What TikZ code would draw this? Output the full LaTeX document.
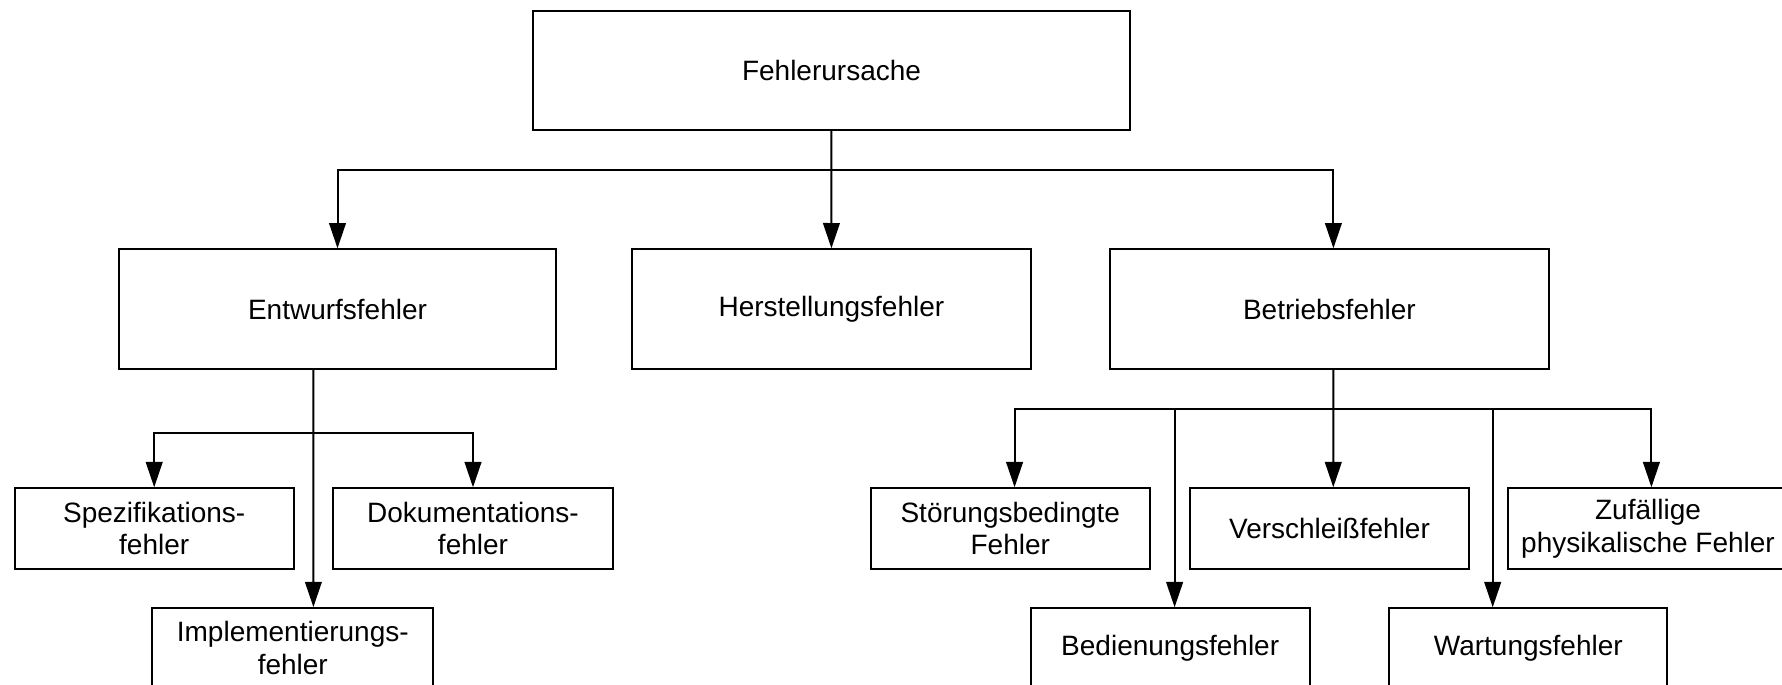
\documentclass[tikz,border=0pt]{standalone}
\usepackage{fontspec}
\setmainfont{Liberation Sans}
\usetikzlibrary{arrows.meta}
\begin{document}
\begin{tikzpicture}[x=0.75pt,y=-0.75pt,
  box/.style={draw, line width=1.5pt, inner sep=0pt, align=center,
    font=\fontsize{21}{24.5}\selectfont},
  big/.style={box, minimum height=89.8pt},
  small/.style={box, minimum height=60.3pt, minimum width=209.3pt},
  ln/.style={line width=1.5pt},
  arr/.style={line width=1.5pt, -{Triangle[length=19pt,width=12.5pt]}}]
\useasboundingbox (0,0) rectangle (1782,685);
\clip (0,0) rectangle (1782,685);
% nodes
\node[box, minimum width=448.2pt, minimum height=89.5pt] (root) at (831.5,70.3) {Fehlerursache};
\node[big, minimum width=328.1pt] (entwurf) at (337.5,309.2) {Entwurfsfehler};
\node[big, minimum width=299pt] (herst) at (831.4,309.2) {Herstellungsfehler};
\node[big, minimum width=328.9pt] (betrieb) at (1329.4,309.2) {Betriebsfehler};
\node[small] (spez) at (154.2,528.5) {Spezifikations-\\fehler};
\node[small] (doku) at (473,528.5) {Dokumentations-\\fehler};
\node[small, minimum width=211pt] (impl) at (292.8,648.3) {Implementierungs-\\fehler};
\node[small] (stoer) at (1010.3,528.5) {Störungsbedingte\\Fehler};
\node[small, minimum width=208.6pt] (versch) at (1329.5,528.5) {Verschleißfehler};
\node[small] (zuf) at (1648,528.5) {Zufällige\\physikalische Fehler};
\node[small, minimum height=59.4pt] (bedien) at (1170.2,647.9) {Bedienungsfehler};
\node[small, minimum width=208.6pt, minimum height=59.4pt] (wart) at (1528.3,647.9) {Wartungsfehler};
% top level connectors
\coordinate (tb) at (831.5,170);
\draw[arr] (root) -- (herst);
\draw[arr] (tb) -| (entwurf.north);
\draw[arr] (tb) -| ([xshift=3pt]betrieb.north);
% left subtree
\coordinate (lb) at (313.4,432.7);
\draw[arr] ([xshift=-18.1pt]entwurf.south) -- ([xshift=15.45pt]impl.north);
\draw[arr] (lb) -| (spez.north);
\draw[arr] (lb) -| (doku.north);
% right subtree
\coordinate (rb) at (1333.3,409);
\draw[ln] ([xshift=3pt]betrieb.south) -- (rb);
\draw[arr] (rb) -- ([xshift=2.85pt]versch.north);
\draw[arr] (rb) -| ([xshift=3.2pt]stoer.north);
\draw[arr] (rb) -| ([xshift=3.3pt]bedien.north);
\draw[arr] (rb) -| ([xshift=-26.7pt]wart.north);
\draw[arr] (rb) -| ([xshift=2.55pt]zuf.north);
\end{tikzpicture}
\end{document}
